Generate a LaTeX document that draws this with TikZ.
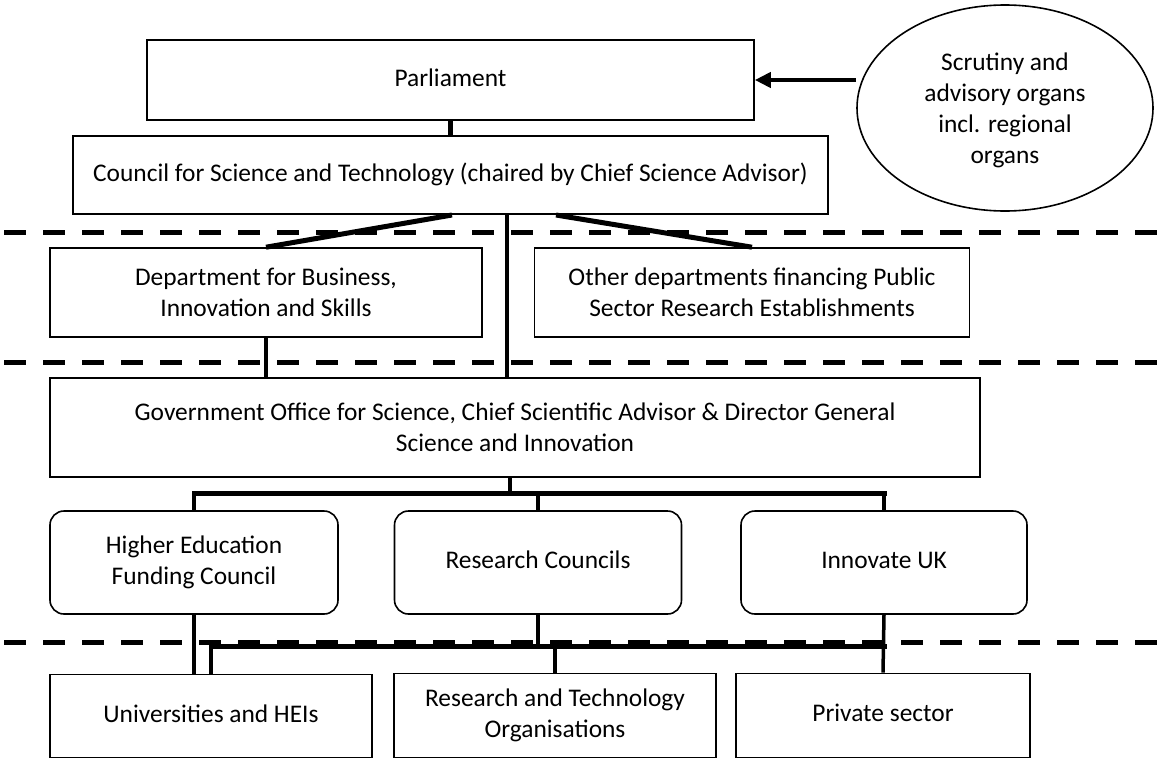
\documentclass[tikz,border=0pt]{standalone}
\usepackage{fontspec}
\setmainfont{Carlito}
\usetikzlibrary{shapes.geometric,arrows.meta}
\begin{document}
\begin{tikzpicture}[x=1pt,y=-1pt,
  every node/.style={font=\fontsize{25.4}{30.8}\selectfont, align=center, inner sep=0pt},
  box/.style={draw, line width=1.6pt, rectangle},
  rbox/.style={draw, line width=1.6pt, rectangle, rounded corners=14pt},
  conn/.style={line width=3.5pt},
  thickconn/.style={line width=5pt, line cap=rect},
  sep/.style={line width=5pt, dash pattern=on 22pt off 17pt}
]
\useasboundingbox (0,0) rectangle (1162,758);

% separators
\draw[sep] (4,232) -- (1162,232);
\draw[sep] (4,362) -- (1162,362);
\draw[sep] (4,642) -- (1162,642);

% nodes
\node[box, minimum width=607, minimum height=80] (parl) at (450.5,80) {Parliament\strut};
\node[box, minimum width=755, minimum height=78] (council) at (450.5,175) {Council for Science and Technology (chaired by Chief Science Advisor)\strut};
\node[draw, line width=1.6pt, ellipse, minimum width=296, minimum height=206, text depth=-4pt] (ell) at (1005,108)
  {Scrutiny and\\advisory organs\\incl. regional\\organs};
\node[box, minimum width=432, minimum height=89] (dept) at (266,292.5) {Department for Business,\\Innovation and Skills};
\node[box, minimum width=435, minimum height=89] (other) at (752,292.5) {Other departments financing Public\\Sector Research Establishments};
\node[box, minimum width=930, minimum height=99] (gov) at (515,427.5) {Government Office for Science, Chief Scientific Advisor \& Director General\\Science and Innovation};
\node[rbox, minimum width=288, minimum height=103] (hefc) at (194,562.5) {Higher Education\\Funding Council};
\node[rbox, minimum width=287, minimum height=103] (rc) at (538,562.5) {Research Councils\strut};
\node[rbox, minimum width=286, minimum height=103] (inn) at (884,562.5) {Innovate UK\strut};
\node[box, minimum width=322, minimum height=83] (univ) at (211,716) {Universities and HEIs\strut};
\node[box, minimum width=322, minimum height=84] (rto) at (555,715.5) {Research and Technology\\Organisations};
\node[box, minimum width=294, minimum height=84] (priv) at (883,715.5) {Private sector\strut};

% arrow from ellipse to parliament
\draw[line width=4pt, -{Triangle[length=16pt,width=15pt]}] (parl.east -| ell.west) -- (parl.east);

% parliament - council
\draw[line width=4.5pt] (parl.south) -- (council.north);

% council to departments
\coordinate (cl) at (452,215);
\coordinate (cr) at (556,215);
\coordinate (cm) at (507,215);
\draw[thickconn, line cap=butt] (cl) -- (dept.north);
\draw[thickconn, line cap=butt] (cr) -- (other.north);
\draw[conn] (cm) -- (cm |- gov.north);
\draw[conn] (dept.south) -- (dept.south |- gov.north);

% gov to funding bodies
\coordinate (gs) at (510,477);
\coordinate (bar1) at (510,493);
\draw[conn] (gs) -- (bar1);
\draw[thickconn] (hefc.north |- bar1) -- (inn.north |- bar1);
\draw[conn] (hefc.north |- bar1) -- (hefc.north);
\draw[conn] (rc.north |- bar1) -- (rc.north);
\draw[conn] (inn.north |- bar1) -- (inn.north);

% funding bodies to performers
\coordinate (bar2) at (0,646);
\draw[conn] (hefc.south) -- (hefc.south |- univ.north);
\draw[conn] (rc.south) -- (rc.south |- bar2);
\draw[thickconn] (univ.north |- bar2) -- (inn.south |- bar2);
\draw[conn] (univ.north |- bar2) -- (univ.north);
\draw[conn] (rto.north |- bar2) -- (rto.north);
\draw[conn] (inn.south) -- (priv.north);
\end{tikzpicture}
\end{document}
